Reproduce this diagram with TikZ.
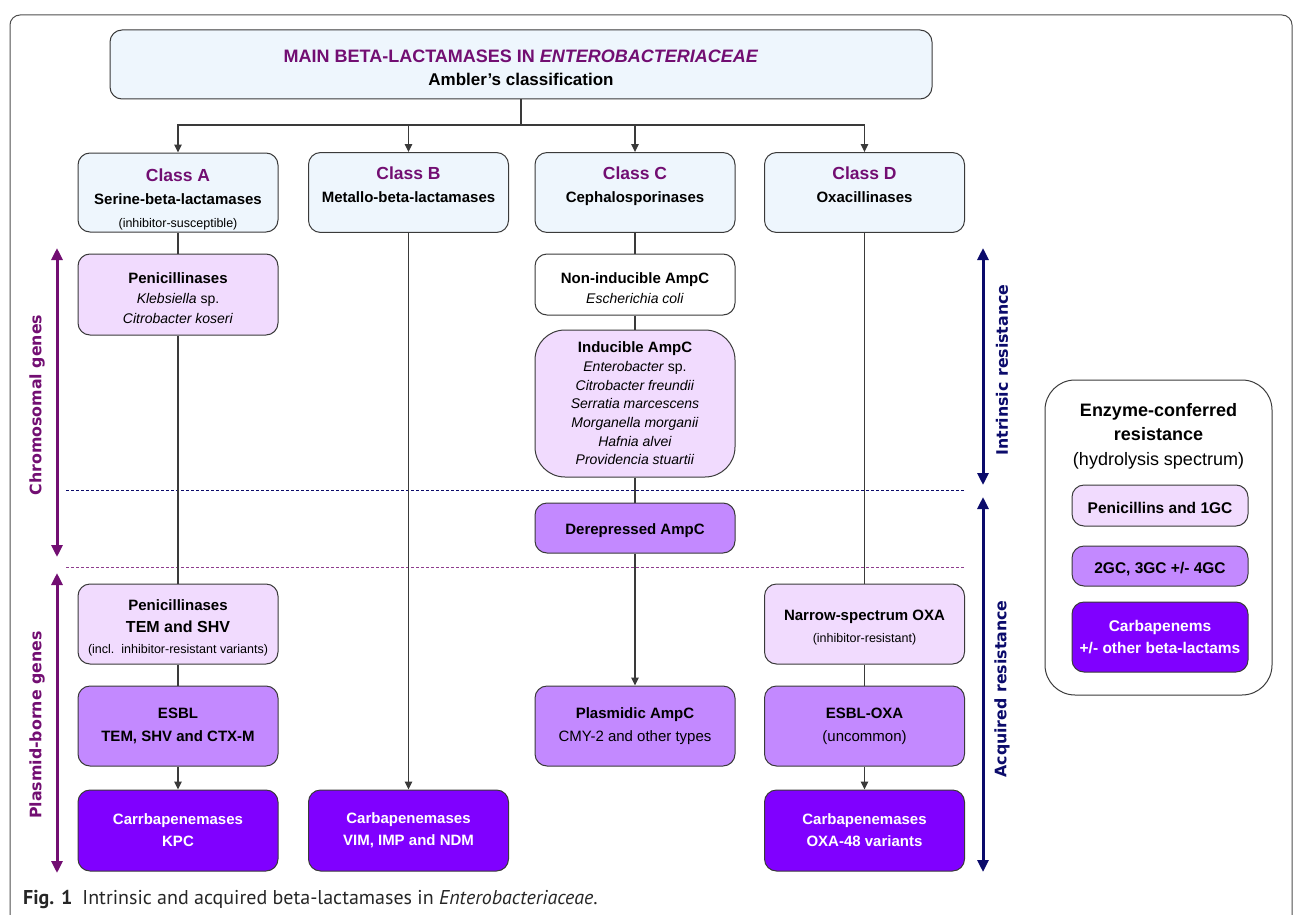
\documentclass[tikz,border=0pt]{standalone}
\usepackage{fontspec}
\setmainfont{Liberation Sans}
\newfontfamily\sidefont{DejaVu Sans}
\newfontfamily\capfont{PT Sans}
\usetikzlibrary{arrows.meta}

\definecolor{edgecol}{HTML}{3A3A3A}
\definecolor{clsfill}{HTML}{EEF6FD}
\definecolor{lowfill}{HTML}{F1DBFE}
\definecolor{midfill}{HTML}{C389FF}
\definecolor{highfill}{HTML}{8000FF}
\definecolor{plum}{HTML}{720E72}
\definecolor{navy}{HTML}{0B0B6B}

\newcommand\cls[1]{{\fontsize{17.5}{20}\selectfont\color{plum}#1}}
\newcommand\sml[1]{{\fontsize{12.5}{14}\selectfont\mdseries #1}}
\newcommand\spc[1]{{\fontsize{14}{16}\selectfont\mdseries #1}}
\newcommand\lift[1]{\rule{0pt}{#1pt}}

\begin{document}
\begin{tikzpicture}[x=1pt,y=-1pt]
    \tikzstyle{box} = [draw=edgecol, line width=1pt, rounded corners=12pt, minimum width=200pt,
        align=center, inner sep=0pt, font=\fontsize{15}{23}\selectfont\bfseries,
        execute at begin node={\lift{17}}]
    \tikzstyle{low} = [fill=lowfill]
    \tikzstyle{mid} = [fill=midfill]
    \tikzstyle{high} = [fill=highfill, text=white]
    \tikzstyle{ann} = [draw=none, fill=none, rotate=90, font=\sidefont\fontsize{15.8}{18}\selectfont\bfseries]
    \tikzstyle{span} = [line width=3pt, {Triangle[length=12pt,width=11pt]}-{Triangle[length=12pt,width=11pt]}]
    \tikzstyle{sep} = [line width=1pt, dash pattern=on 3pt off 2pt]
    \useasboundingbox (0,0) rectangle (1295,915);
    \draw[edgecol!90, line width=1pt, rounded corners=10pt] (10,915) -- (10,15) -- (1292,15) -- (1292,915);

    \node[box, fill=clsfill, minimum width=822pt, minimum height=69pt] (0) at (521,64.5)
        {\lift{20}{\fontsize{18}{20}\selectfont\color{plum}MAIN BETA-LACTAMASES IN \textit{ENTEROBACTERIACEAE}}\\
         {\fontsize{17}{20}\selectfont Ambler's classification}};
    \node[box, fill=clsfill, minimum height=79pt] (1) at (178,192.5)
        {\lift{27}\cls{Class A}\\Serine-beta-lactamases\\\sml{(inhibitor-susceptible)}};
    \node[box, fill=clsfill, minimum height=79pt] (2) at (408.5,192.5)
        {\lift{27}\cls{Class B}\\Metallo-beta-lactamases\\\strut};
    \node[box, fill=clsfill, minimum height=79pt] (3) at (635,192.5)
        {\lift{27}\cls{Class C}\\Cephalosporinases\\\strut};
    \node[box, fill=clsfill, minimum height=79pt] (4) at (864.5,192.5)
        {\lift{27}\cls{Class D}\\Oxacillinases\\\strut};

    \node[box, low, minimum height=81pt, font=\fontsize{15}{20}\selectfont\bfseries] (5) at (178,294.5)
        {\lift{19}Penicillinases\\\spc{\textit{Klebsiella} sp.}\\\spc{\textit{Citrobacter koseri}}};
    \node[box, fill=white, minimum height=61pt, font=\fontsize{15}{20}\selectfont\bfseries] (6) at (635,284.5)
        {\lift{18}Non-inducible AmpC\\\spc{\textit{Escherichia coli}}};
    \node[box, low, rounded corners=30pt, minimum height=147pt, font=\fontsize{15}{18.7}\selectfont\bfseries] (7) at (635,403.5)
        {Inducible AmpC\\\spc{\textit{Enterobacter} sp.}\\\spc{\textit{Citrobacter freundii}}\\
         \spc{\textit{Serratia marcescens}}\\\spc{\textit{Morganella morganii}}\\
         \spc{\textit{Hafnia alvei}}\\\spc{\textit{Providencia stuartii}}};
    \node[box, mid, minimum height=50pt] (8) at (635,528) {Derepressed AmpC};

    \node[box, low, minimum height=80pt, font=\fontsize{15}{21.5}\selectfont\bfseries] (9) at (178,624)
        {\lift{19}Penicillinases\\{\fontsize{16}{18}\selectfont TEM and SHV}\\\sml{(incl.~~inhibitor-resistant variants)}};
    \node[box, low, minimum height=80pt, font=\fontsize{15}{22}\selectfont\bfseries] (10) at (864.5,624)
        {\lift{18}Narrow-spectrum OXA\\\sml{(inhibitor-resistant)}};

    \node[box, mid, minimum height=80pt] (11) at (178,726) {ESBL\\TEM, SHV and CTX-M};
    \node[box, mid, minimum height=80pt] (12) at (635,726) {Plasmidic AmpC\\\mdseries CMY-2 and other types};
    \node[box, mid, minimum height=80pt] (13) at (864.5,726) {ESBL-OXA\\\mdseries (uncommon)};

    \node[box, high, minimum height=81pt, font=\fontsize{15}{22}\selectfont\bfseries] (14) at (178,830.5)
        {Carrbapenemases\\KPC};
    \node[box, high, minimum height=81pt, font=\fontsize{15}{22}\selectfont\bfseries] (15) at (408.5,830.5)
        {Carbapenemases\\VIM, IMP and NDM};
    \node[box, high, minimum height=81pt, font=\fontsize{15}{22}\selectfont\bfseries] (16) at (864.5,830.5)
        {Carbapenemases\\OXA-48 variants};

    \node[box, fill=none, rounded corners=30pt, minimum width=227pt, minimum height=315pt] (17) at (1158.5,537.5) {};
    \node[align=center, inner sep=0pt, font=\fontsize{18}{24.5}\selectfont\bfseries] (18) at (1158.5,436)
        {Enzyme-conferred\\resistance\\\mdseries (hydrolysis spectrum)};
    \node[box, low, minimum width=176pt, minimum height=41pt, font=\fontsize{15.5}{18}\selectfont\bfseries] (19) at (1160,505.5)
        {Penicillins and 1GC};
    \node[box, mid, minimum width=176pt, minimum height=40pt, font=\fontsize{15.5}{18}\selectfont\bfseries] (20) at (1160,566)
        {2GC, 3GC +/- 4GC};
    \node[box, high, minimum width=176pt, minimum height=70pt, font=\fontsize{15.5}{22}\selectfont\bfseries] (21) at (1160,637)
        {Carbapenems\\+/- other beta-lactams};

    \draw[sep, navy] (66,490) -- (965,490);
    \draw[sep, plum!80] (66,567) -- (965,567);

    \draw[span, plum] (57,248) -- (57,557);
    \node[ann, text=plum] (22) at (37,405) {Chromosomal genes};
    \draw[span, plum] (57,573) -- (57,873);
    \node[ann, text=plum] (23) at (37,725) {Plasmid-borne genes};
    \draw[span, navy] (983,248) -- (983,485);
    \node[ann, text=navy] (24) at (1002,370) {Intrinsic resistance};
    \draw[span, navy] (983,497) -- (983,872);
    \node[ann, text=navy] (25) at (1002,689) {Acquired resistance};

    \coordinate (bar) at (521,125);
    \tikzstyle{link} = [edgecol, line width=1.2pt, -{Triangle[length=8pt,width=7.5pt]}]
    \draw[edgecol, line width=1.2pt] (0) -- (bar);
    \draw[link] (bar) -| (1);
    \draw[link] (bar) -| (2);
    \draw[link] (bar) -| (3);
    \draw[link] (bar) -| (4);

    \draw[edgecol, line width=1.2pt]  (1) edge (5);
    \draw[edgecol, line width=1.2pt]  (5) edge (9);
    \draw[edgecol, line width=1.2pt]  (9) edge (11);
    \draw[link]  (11) edge (14);
    \draw[link]  (2) edge (15);
    \draw[edgecol, line width=1.2pt]  (3) edge (6);
    \draw[edgecol, line width=1.2pt]  (6) edge (7);
    \draw[edgecol, line width=1.2pt]  (7) edge (8);
    \draw[link]  (8) edge (12);
    \draw[edgecol, line width=1.2pt]  (4) edge (10);
    \draw[edgecol, line width=1.2pt]  (10) edge (13);
    \draw[link]  (13) edge (16);

    \node[anchor=west, inner sep=0pt, text=black!85, font=\capfont\fontsize{20}{22}\selectfont] (26) at (23,899)
        {\textbf{Fig. 1}\enspace Intrinsic and acquired beta-lactamases in \textit{Enterobacteriaceae}.};
\end{tikzpicture}
\end{document}
